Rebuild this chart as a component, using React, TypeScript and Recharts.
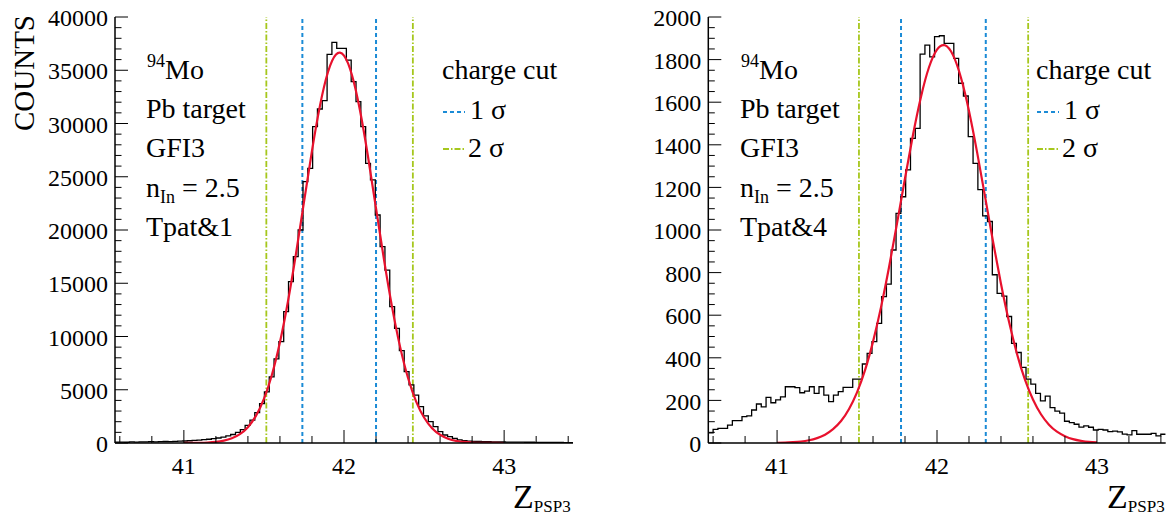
import React from 'react';
import { ComposedChart, Line, XAxis, YAxis, ReferenceLine } from 'recharts';

// ---------- data ----------
const BIN_LOW = 40.57;
const BIN_WIDTH = 0.0301;
const X_DOMAIN: [number, number] = [40.57, 43.43];
const X_TICKS = [40.6, 40.8, 41, 41.2, 41.4, 41.6, 41.8, 42, 42.2, 42.4, 42.6, 42.8, 43, 43.2, 43.4];
const X_LABELS = [41, 42, 43];

const LEFT_Y_TICKS = [
  0, 1000, 2000, 3000, 4000, 5000, 6000, 7000, 8000, 9000, 10000, 11000, 12000, 13000, 14000, 15000,
  16000, 17000, 18000, 19000, 20000, 21000, 22000, 23000, 24000, 25000, 26000, 27000, 28000, 29000,
  30000, 31000, 32000, 33000, 34000, 35000, 36000, 37000, 38000, 39000, 40000,
];
const LEFT_Y_LABELS = [0, 5000, 10000, 15000, 20000, 25000, 30000, 35000, 40000];
const RIGHT_Y_TICKS = [
  0, 50, 100, 150, 200, 250, 300, 350, 400, 450, 500, 550, 600, 650, 700, 750, 800, 850, 900, 950,
  1000, 1050, 1100, 1150, 1200, 1250, 1300, 1350, 1400, 1450, 1500, 1550, 1600, 1650, 1700, 1750,
  1800, 1850, 1900, 1950, 2000,
];
const RIGHT_Y_LABELS = [0, 200, 400, 600, 800, 1000, 1200, 1400, 1600, 1800, 2000];

const LEFT_COUNTS = [
  80, 90, 70, 100, 90, 110, 100, 120, 110, 130,
  140, 130, 160, 170, 190, 210, 240, 270, 310, 350,
  410, 470, 560, 660, 800, 1000, 1250, 1650, 2150, 2850,
  3700, 4800, 6200, 7900, 9510, 12330, 15150, 17500, 20000, 24540,
  25790, 29700, 31360, 32140, 36500, 37620, 37060, 37060, 35960, 33930,
  32050, 29700, 26260, 24700, 21410, 18430, 16240, 12800, 10770, 8670,
  6700, 5450, 4500, 3410, 2540, 2000, 1530, 1060, 750, 590,
  440, 300, 220, 180, 160, 140, 130, 120, 110, 100,
  100, 90, 90, 80, 80, 70, 70, 60, 60, 60,
  50, 50, 50, 40, 40,
];
const RIGHT_COUNTS = [
  48, 64, 69, 69, 84, 105, 105, 124, 127, 155,
  183, 170, 214, 189, 202, 217, 264, 264, 260, 236,
  244, 264, 233, 264, 225, 194, 225, 241, 261, 261,
  300, 300, 371, 421, 476, 562, 687, 746, 906, 1078,
  1156, 1282, 1430, 1477, 1826, 1868, 1813, 1908, 1912, 1876,
  1876, 1806, 1689, 1629, 1438, 1313, 1190, 1066, 1040, 790,
  702, 690, 594, 468, 425, 355, 300, 276, 233, 198,
  220, 166, 150, 140, 102, 96, 88, 75, 80, 74,
  61, 64, 61, 53, 56, 52, 42, 38, 58, 41,
  41, 41, 45, 33, 41,
];

const FIT_X = [
  41, 41.05, 41.1, 41.15, 41.2, 41.25, 41.3, 41.35, 41.4, 41.45, 41.5, 41.55, 41.6, 41.65, 41.7,
  41.75, 41.8, 41.85, 41.9, 41.95, 42, 42.05, 42.1, 42.15, 42.2, 42.25, 42.3, 42.35, 42.4, 42.45,
  42.5, 42.55, 42.6, 42.65, 42.7, 42.75, 42.8, 42.85, 42.9, 42.95, 43,
];
const LEFT_FIT = [
  4, 9, 21, 49, 107, 223, 441, 831, 1489, 2543, 4138, 6413, 9456, 13283, 17764, 22624, 27436, 31680,
  34836, 36477, 36371, 34532, 31218, 26876, 22030, 17200, 12783, 9049, 6099, 3914, 2393, 1392, 771,
  407, 205, 98, 45, 19, 8, 3, 1,
];
const RIGHT_FIT = [
  1, 2, 4, 7, 13, 23, 39, 65, 103, 160, 238, 342, 476, 638, 825, 1031, 1243, 1447, 1626, 1764, 1847,
  1867, 1821, 1715, 1559, 1368, 1159, 947, 748, 570, 419, 297, 204, 135, 86, 53, 32, 18, 10, 5, 3,
];

const LEFT_CUT_1S = [41.74, 42.2];
const LEFT_CUT_2S = [41.515, 42.43];
const RIGHT_CUT_1S = [41.775, 42.305];
const RIGHT_CUT_2S = [41.512, 42.57];

const PANEL_TEXT_LEFT = ['Pb target', 'GFI3', 'Tpat&1'];
const PANEL_TEXT_RIGHT = ['Pb target', 'GFI3', 'Tpat&4'];

// ---------- styles ----------
const FONT = "'Liberation Serif', 'Times New Roman', Times, serif";
const BLUE = '#1b8bd6';
const GREEN = '#a6c71d';
const RED = '#e8112d';
const DASH_1S = '4 3';
const DASH_2S = '6 2 1.5 2';
const Y_TICK_MARGIN = 6;
const X_TICK_MARGIN = 10;

function histPoints(counts: number[]) {
  const pts = counts.map((v, i) => ({ x: BIN_LOW + i * BIN_WIDTH, v }));
  pts.push({ x: BIN_LOW + counts.length * BIN_WIDTH, v: counts[counts.length - 1] });
  return pts;
}
function fitPoints(vals: number[]) {
  return FIT_X.map((x, i) => ({ x, v: vals[i] }));
}

function makeYTick(labels: number[]) {
  return (props: any) => {
    const { x, y, payload } = props;
    const axisX = x + Y_TICK_MARGIN;
    const major = labels.includes(payload.value);
    return (
      <g>
        <line x1={axisX} x2={axisX + (major ? 13 : 6.5)} y1={y} y2={y} stroke="#000" strokeWidth={1} />
        {major && (
          <text
            x={x - 1}
            y={y}
            dy="0.38em"
            textAnchor="end"
            fontFamily={FONT}
            style={{ fontFamily: FONT }}
            fontSize={24}
            fill="#000"
          >
            {payload.value}
          </text>
        )}
      </g>
    );
  };
}

const XTick = (props: any) => {
  const { x, y, payload } = props;
  const axisY = y - X_TICK_MARGIN;
  const major = X_LABELS.includes(payload.value);
  return (
    <g>
      <line x1={x} x2={x} y1={axisY} y2={axisY - (major ? 13 : 7)} stroke="#000" strokeWidth={1} />
      {major && (
        <text
          x={x}
          y={axisY + 31}
          textAnchor="middle"
          fontFamily={FONT}
          style={{ fontFamily: FONT }}
          fontSize={24}
          fill="#000"
        >
          {payload.value}
        </text>
      )}
    </g>
  );
};

type PanelProps = {
  left: number;
  width: number;
  margin: { top: number; right: number; bottom: number; left: number };
  counts: number[];
  fit: number[];
  yMax: number;
  yTicks: number[];
  yLabels: number[];
  cut1: number[];
  cut2: number[];
};

function Panel(p: PanelProps) {
  return (
    <div style={{ position: 'absolute', left: p.left, top: 0 }}>
      <ComposedChart width={p.width} height={516} margin={p.margin}>
        <XAxis
          dataKey="x"
          type="number"
          domain={X_DOMAIN}
          ticks={X_TICKS}
          interval={0}
          allowDataOverflow
          height={40}
          tickSize={0}
          tickMargin={X_TICK_MARGIN}
          tickLine={false}
          tick={XTick}
          axisLine={{ stroke: '#000', strokeWidth: 1.5 }}
        />
        <XAxis
          xAxisId="top"
          orientation="top"
          type="number"
          domain={X_DOMAIN}
          height={0}
          tick={false}
          tickLine={false}
          axisLine={{ stroke: '#555', strokeWidth: 1 }}
        />
        <YAxis
          type="number"
          domain={[0, p.yMax]}
          ticks={p.yTicks}
          interval={0}
          allowDataOverflow
          width={100}
          tickSize={0}
          tickMargin={Y_TICK_MARGIN}
          tickLine={false}
          tick={makeYTick(p.yLabels)}
          axisLine={{ stroke: '#000', strokeWidth: 1.5 }}
        />
        <YAxis
          yAxisId="right"
          orientation="right"
          type="number"
          domain={[0, 1]}
          width={0}
          tick={false}
          tickLine={false}
          axisLine={{ stroke: '#555', strokeWidth: 1 }}
        />
        {p.cut2.map((c) => (
          <ReferenceLine key={'c2' + c} x={c} stroke={GREEN} strokeWidth={1.8} strokeDasharray={DASH_2S} />
        ))}
        {p.cut1.map((c) => (
          <ReferenceLine key={'c1' + c} x={c} stroke={BLUE} strokeWidth={2} strokeDasharray={DASH_1S} />
        ))}
        <Line
          data={histPoints(p.counts)}
          dataKey="v"
          type="stepAfter"
          stroke="#000"
          strokeWidth={1.3}
          dot={false}
          activeDot={false}
          isAnimationActive={false}
        />
        <Line
          data={fitPoints(p.fit)}
          dataKey="v"
          type="natural"
          stroke={RED}
          strokeWidth={2.2}
          dot={false}
          activeDot={false}
          isAnimationActive={false}
        />
      </ComposedChart>
    </div>
  );
}

function Annotations({ dx, lines, showYTitle }: { dx: number; lines: string[]; showYTitle: boolean }) {
  const tx = 146 + dx;
  const lx = 442 + dx;
  return (
    <g fontFamily={FONT} style={{ fontFamily: FONT }} fill="#000">
      {showYTitle && (
        <text transform="translate(33.5,15) rotate(-90)" textAnchor="end" fontSize={29}>
          COUNTS
        </text>
      )}
      <text x={tx + 1} y={79} fontSize={28}>
        <tspan fontSize={18} dy={-12}>94</tspan>
        <tspan fontSize={28} dy={12}>Mo</tspan>
      </text>
      <text x={tx} y={118} fontSize={28}>{lines[0]}</text>
      <text x={tx} y={157} fontSize={28}>{lines[1]}</text>
      <text x={tx} y={197} fontSize={28}>
        n<tspan fontSize={18} dy={6}>In</tspan>
        <tspan dy={-6}>{' = 2.5'}</tspan>
      </text>
      <text x={tx} y={236} fontSize={28}>{lines[2]}</text>

      <text x={lx} y={79} fontSize={28}>charge cut</text>
      <line x1={lx + 1} x2={lx + 23} y1={112} y2={112} stroke={BLUE} strokeWidth={2} strokeDasharray={DASH_1S} />
      <text x={lx + 28} y={119} fontSize={28}>1 σ</text>
      <line x1={lx + 1} x2={lx + 23} y1={149} y2={149} stroke={GREEN} strokeWidth={1.8} strokeDasharray={DASH_2S} />
      <text x={lx + 26} y={157} fontSize={28}>2 σ</text>

      <text x={513 + dx} y={508} fontSize={34}>
        Z<tspan fontSize={17} dy={4}>PSP3</tspan>
      </text>
    </g>
  );
}

export default function App() {
  return (
    <div
      style={{
        position: 'absolute',
        left: 0,
        top: 0,
        width: 1170,
        height: 516,
        background: '#fff',
        overflow: 'hidden',
      }}
    >
      <Panel
        left={0}
        width={585}
        margin={{ top: 17, right: 12, bottom: 33, left: 15 }}
        counts={LEFT_COUNTS}
        fit={LEFT_FIT}
        yMax={40000}
        yTicks={LEFT_Y_TICKS}
        yLabels={LEFT_Y_LABELS}
        cut1={LEFT_CUT_1S}
        cut2={LEFT_CUT_2S}
      />
      <Panel
        left={590}
        width={580}
        margin={{ top: 17, right: 4.3, bottom: 33, left: 18.3 }}
        counts={RIGHT_COUNTS}
        fit={RIGHT_FIT}
        yMax={2000}
        yTicks={RIGHT_Y_TICKS}
        yLabels={RIGHT_Y_LABELS}
        cut1={RIGHT_CUT_1S}
        cut2={RIGHT_CUT_2S}
      />
      <svg
        width={1170}
        height={516}
        style={{ position: 'absolute', left: 0, top: 0, pointerEvents: 'none' }}
      >
        <Annotations dx={0} lines={PANEL_TEXT_LEFT} showYTitle={true} />
        <Annotations dx={594} lines={PANEL_TEXT_RIGHT} showYTitle={false} />
      </svg>
    </div>
  );
}
